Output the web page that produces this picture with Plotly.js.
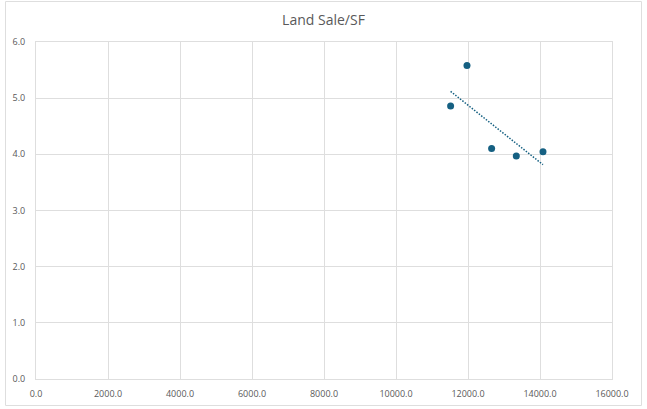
<!DOCTYPE html>
<html>
<head>
<meta charset="utf-8">
<script src="https://cdn.plot.ly/plotly-3.0.1.min.js"></script>
<style>
  html, body { margin: 0; padding: 0; background: #ffffff; }
  #chart { width: 647px; height: 409px; }
</style>
</head>
<body>
<div id="chart"></div>
<script>
// Land sales: parcel size (SF) against sale price per SF
const landSizeSF = [11517, 11972, 12656, 13342, 14083];
const pricePerSF = [4.86, 5.58, 4.105, 3.97, 4.045];

const xTicks = [0, 2000, 4000, 6000, 8000, 10000, 12000, 14000, 16000];
const yTicks = [0, 1, 2, 3, 4, 5, 6];

// Least-squares linear trendline across the observed range
function linearFit(xs, ys) {
  const n = xs.length;
  const mx = xs.reduce((a, b) => a + b, 0) / n;
  const my = ys.reduce((a, b) => a + b, 0) / n;
  let sxy = 0, sxx = 0;
  for (let i = 0; i < n; i++) {
    sxy += (xs[i] - mx) * (ys[i] - my);
    sxx += (xs[i] - mx) * (xs[i] - mx);
  }
  const slope = sxy / sxx;
  return { slope: slope, intercept: my - slope * mx };
}
const fit = linearFit(landSizeSF, pricePerSF);
const xMin = Math.min(...landSizeSF), xMax = Math.max(...landSizeSF);
const trendX = [xMin, xMax];
const trendY = trendX.map(x => fit.intercept + fit.slope * x);

const accent = '#156082';
const grid = '#dedede';
const textColor = '#595959';
const fontFamily = 'Open Sans, Liberation Sans, sans-serif';

const traces = [
  {
    x: trendX, y: trendY, type: 'scatter', mode: 'lines',
    line: { color: accent, width: 1.5, dash: '1.5px,1.5px' },
    hoverinfo: 'skip', showlegend: false
  },
  {
    x: landSizeSF, y: pricePerSF, type: 'scatter', mode: 'markers',
    marker: { color: accent, size: 7 },
    showlegend: false
  }
];

const plotW = 647 - 36 - 35;
const plotH = 409 - 42 - 30;

const layout = {
  width: 647, height: 409,
  margin: { l: 36, r: 35, t: 42, b: 30, pad: 0 },
  paper_bgcolor: '#ffffff', plot_bgcolor: '#ffffff',
  title: {
    text: 'Land Sale/SF',
    font: { family: fontFamily, size: 14, color: textColor },
    x: 0.5, xanchor: 'center', y: 0.95, yanchor: 'middle'
  },
  font: { family: fontFamily, size: 9, color: textColor },
  xaxis: {
    range: [0, 16000], tickvals: xTicks, tickformat: '.1f',
    showgrid: true, gridcolor: grid, gridwidth: 1,
    zeroline: false, showline: true, mirror: true, linecolor: grid, linewidth: 1,
    ticks: 'outside', ticklen: 6, tickcolor: 'rgba(0,0,0,0)',
    tickfont: { family: fontFamily, size: 9, color: textColor },
    fixedrange: true
  },
  yaxis: {
    range: [0, 6], tickvals: yTicks, tickformat: '.1f',
    showgrid: true, gridcolor: grid, gridwidth: 1,
    zeroline: false, showline: true, mirror: true, linecolor: grid, linewidth: 1,
    ticks: 'outside', ticklen: 8, tickcolor: 'rgba(0,0,0,0)',
    tickfont: { family: fontFamily, size: 9, color: textColor },
    fixedrange: true
  },
  shapes: [
    {
      // chart-area frame
      type: 'rect', xref: 'paper', yref: 'paper',
      x0: (5.5 - 36) / plotW, x1: (641.5 - 36) / plotW,
      y0: -(405.5 - (409 - 30)) / plotH, y1: ((409 - 30) - 1.5) / plotH,
      line: { color: grid, width: 1 }, fillcolor: 'rgba(0,0,0,0)', layer: 'below'
    }
  ]
};

Plotly.newPlot('chart', traces, layout, { displayModeBar: false, staticPlot: true });
</script>
</body>
</html>
